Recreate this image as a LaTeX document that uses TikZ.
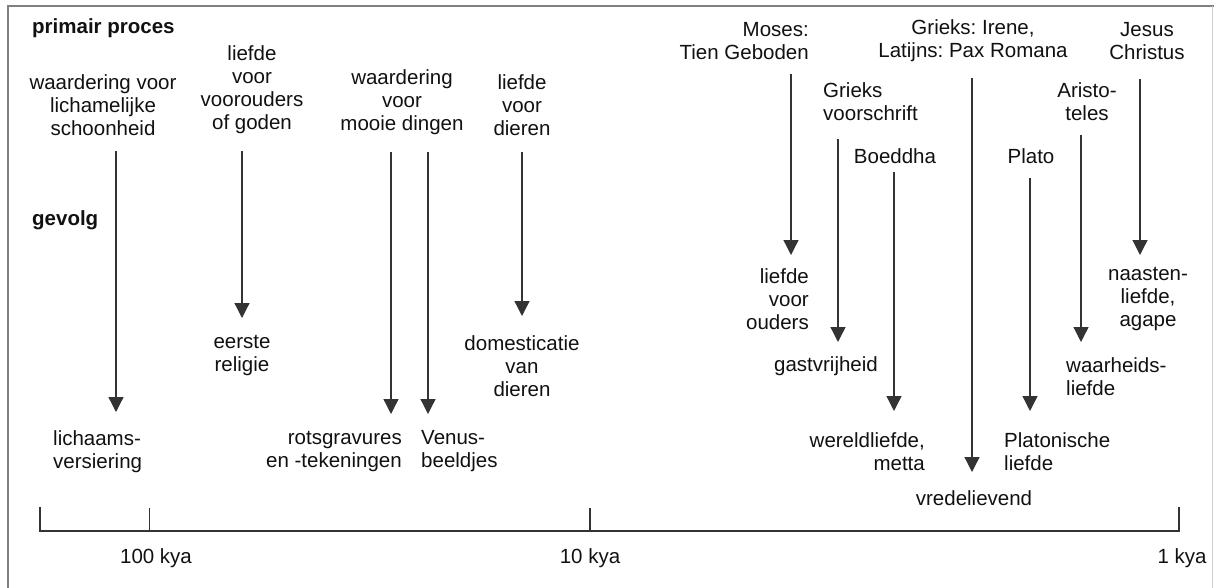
\documentclass[tikz,border=0pt]{standalone}
\usepackage{fontspec}
\setmainfont{Liberation Sans}
\frenchspacing
\usetikzlibrary{arrows.meta}
\definecolor{ink}{HTML}{111111}
\definecolor{linec}{HTML}{333333}
\definecolor{framec}{HTML}{808080}
\tikzset{
  lbl/.style={inner sep=0pt, text=ink, align=center, font=\fontsize{20.5pt}{23pt}\selectfont},
  lblL/.style={lbl, align=left},
  lblR/.style={lbl, align=right},
  head/.style={lbl, font=\fontsize{20.5pt}{23pt}\selectfont\bfseries, anchor=west},
  arr/.style={draw=linec, line width=1.3pt, -{Triangle[width=15pt,length=15pt]}},
  axis/.style={draw=linec, line width=1.3pt},
}
\begin{document}
\begin{tikzpicture}[x=1pt,y=-1pt]
\useasboundingbox (0,0) rectangle (1214,588);
\fill[white] (0,0) rectangle (1214,588);
% frame
\draw[framec, line width=2pt] (8,588) -- (8,6) -- (1214,6);
\draw[framec!40, line width=1pt] (1212,6) -- (1212,588);

% headings
\node[head] (pp) at (32,28) {primair proces};
\node[head] (gev) at (32,220) {gevolg};

% top texts
\node[lbl] (t1) at (103,105) {waardering voor\\lichamelijke\\schoonheid};
\node[lbl] (t2) at (252,90) {liefde\\voor\\voorouders\\of goden};
\node[lbl] (t3) at (402,102) {waardering\\voor\\mooie dingen};
\node[lbl] (t4) at (522,105) {liefde\\voor\\dieren};
\node[lblR, anchor=east] (m1) at (809,41) {Moses:\\Tien Geboden};
\node[lblL, anchor=west] (g1) at (823,102) {Grieks\\voorschrift};
\node[lbl] (bo1) at (895,156) {Boeddha};
\node[lbl] (ir1) at (973,41) {Grieks: Irene,\\Latijns: Pax Romana};
\node[lbl] (pl1) at (1031,156) {Plato};
\node[lbl] (ar1) at (1087,102) {Aristo-\\teles};
\node[lbl] (j1) at (1147,41) {Jesus\\Christus};

% bottom texts
\node[lblL, anchor=west] (b1) at (53,452) {lichaams-\\versiering};
\node[lbl] (b2) at (242,355) {eerste\\religie};
\node[lblR, anchor=east] (b3) at (402,451) {rotsgravures\\en -tekeningen};
\node[lblL, anchor=west] (b4) at (421,451) {Venus-\\beeldjes};
\node[lbl] (b5) at (522,366) {domesticatie\\van\\dieren};
\node[lblR, anchor=east] (m2) at (809,299) {liefde\\voor\\ouders};
\node[lbl] (g2) at (826,366) {gastvrijheid};
\node[lblR, anchor=east] (bo2) at (925,452) {wereldliefde,\\metta};
\node[lbl] (ir2) at (974,498) {vredelievend};
\node[lblL, anchor=west] (pl2) at (1004,452) {Platonische\\liefde};
\node[lblL, anchor=west] (ar2) at (1066,377) {waarheids-\\liefde};
\node[lbl] (j2) at (1148,299) {naasten-\\liefde,\\agape};

% arrow endpoints
\coordinate (a1s) at (116,151);  \coordinate (a1e) at (116,412);
\coordinate (a2s) at (242,151);  \coordinate (a2e) at (242,318);
\coordinate (a3s) at (391,152);  \coordinate (a3e) at (391,414);
\coordinate (a4s) at (428,152);  \coordinate (a4e) at (428,414);
\coordinate (a5s) at (522,152);  \coordinate (a5e) at (522,316);
\coordinate (aMs) at (791,74);   \coordinate (aMe) at (791,255);
\coordinate (aGs) at (838,139);  \coordinate (aGe) at (838,342);
\coordinate (aBs) at (894,172);  \coordinate (aBe) at (894,411);
\coordinate (aPs) at (972,78);   \coordinate (aPe) at (972,472);
\coordinate (aLs) at (1030,178); \coordinate (aLe) at (1030,411);
\coordinate (aAs) at (1081,135); \coordinate (aAe) at (1081,342);
\coordinate (aJs) at (1140,79);  \coordinate (aJe) at (1140,255);

\draw[arr] (a1s) -- (a1e);
\draw[arr] (a2s) -- (a2e);
\draw[arr] (a3s) -- (a3e);
\draw[arr] (a4s) -- (a4e);
\draw[arr] (a5s) -- (a5e);
\draw[arr] (aMs) -- (aMe);
\draw[arr] (aGs) -- (aGe);
\draw[arr] (aBs) -- (aBe);
\draw[arr] (aPs) -- (aPe);
\draw[arr] (aLs) -- (aLe);
\draw[arr] (aAs) -- (aAe);
\draw[arr] (aJs) -- (aJe);

% time axis
\coordinate (ax0) at (40,531);
\coordinate (ax1) at (1179,531);
\coordinate (k100) at (149.5,531);
\coordinate (k10) at (590,531);
\draw[axis] (40,507) -- (ax0) -- (ax1) -- (1179,507);
\draw[axis] (k100) -- ++(0,-23);
\draw[axis] (k10) -- ++(0,-23);
\node[lbl] (l100) at (156,558) {100 kya};
\node[lbl] (l10) at (590,558) {10 kya};
\node[lbl] (l1) at (1182,558) {1 kya};
\end{tikzpicture}
\end{document}
